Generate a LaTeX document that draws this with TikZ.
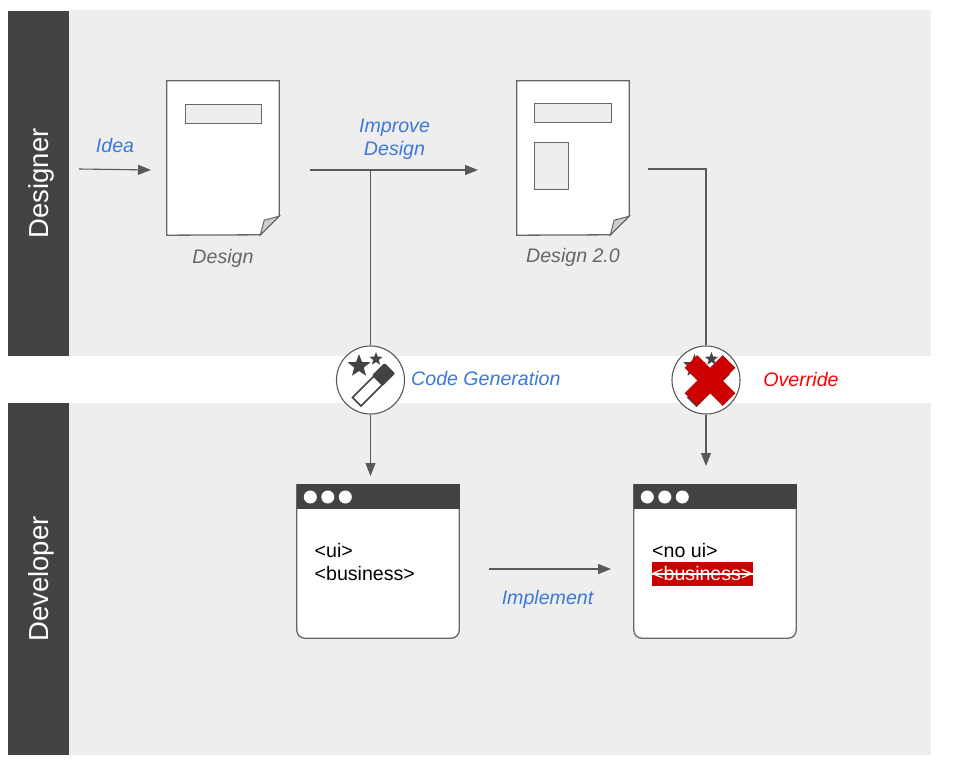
\documentclass[tikz,border=0pt]{standalone}
\usepackage{fontspec}
\setmainfont{Liberation Sans}
\usetikzlibrary{arrows.meta,shapes.geometric}

\definecolor{bandgray}{HTML}{EEEEEE}
\definecolor{bardark}{HTML}{434343}
\definecolor{linegray}{HTML}{595959}
\definecolor{edgegray}{HTML}{666666}
\definecolor{foldgray}{HTML}{CCCCCC}
\definecolor{noteblue}{HTML}{3C78D8}
\definecolor{crossred}{HTML}{CC0000}

\tikzstyle{band} = [rectangle, fill=bandgray, inner sep=0pt, anchor=north west]
\tikzstyle{lanebar} = [rectangle, fill=bardark, text=white, inner sep=0pt, rotate=90, minimum height=61pt, text height=25pt, text depth=5.7pt, font=\fontsize{27.5}{27.5}\selectfont]
\tikzstyle{flow} = [draw=linegray, line width=1.1pt, -{Triangle[length=13pt,width=10pt]}]
\tikzstyle{plainline} = [draw=linegray, line width=1.1pt]
\tikzstyle{note} = [inner sep=0pt, align=center, text=noteblue, font=\fontsize{19.6}{23}\selectfont\itshape]
\tikzstyle{caption} = [inner sep=0pt, text=edgegray, font=\fontsize{19.6}{23}\selectfont\itshape]
\tikzstyle{sheet} = [rectangle, inner sep=0pt, minimum width=112pt, minimum height=154pt]
\tikzstyle{slot} = [rectangle, draw=edgegray, line width=1pt, fill=bandgray, inner sep=0pt]
\tikzstyle{badge} = [circle, draw=linegray, line width=1.1pt, fill=white, inner sep=0pt, minimum size=68pt]
\tikzstyle{winbox} = [rectangle, inner sep=0pt, minimum width=162pt, minimum height=154pt]
\tikzstyle{winbar} = [rectangle, fill=bardark, inner sep=0pt, minimum width=163pt, minimum height=25pt, anchor=north west]
\tikzstyle{windot} = [circle, fill=white, inner sep=0pt, minimum size=13pt]
\tikzstyle{code} = [inner sep=0pt, anchor=base west, font=\fontsize{19.6}{23}\selectfont]
\tikzstyle{wandstick} = [rectangle, draw=bardark, line width=1.6pt, fill=white, inner sep=0pt, rotate=45, minimum width=46pt, minimum height=12pt]
\tikzstyle{wandhead} = [rectangle, rounded corners=1.5pt, fill=bardark, inner sep=0pt, rotate=45, minimum width=18pt, minimum height=15pt]
\tikzstyle{wandstar} = [star, star points=5, star point ratio=2.4, fill=bardark, inner sep=0pt]
\tikzstyle{crossarm} = [rectangle, fill=crossred, inner sep=0pt, minimum width=54pt, minimum height=18pt]

% page outline with the turned corner
\newcommand{\sheetoutline}[1]{
    \draw[draw=edgegray, line width=1.3pt, fill=white] (#1.north west) -- (#1.north east) -- ++(0,135) -- ++(-19,19) -- (#1.south west) -- cycle;
    \draw[draw=edgegray, line width=1pt, fill=foldgray] (#1.south east) ++(0,-19) -- ++(-15,4) -- ++(-4,15) -- cycle;
}
% window frame, title bar and its three dots
\newcommand{\windowframe}[1]{
    \draw[draw=edgegray, line width=1.3pt, fill=white, rounded corners=8pt] (#1.north west) -- (#1.south west) -- (#1.south east) -- (#1.north east);
    \node (#1bar) at (#1.north west) [winbar] {};
    \foreach \dotx in {0,1,2} {
        \node (#1dot\dotx) at ([xshift=13.5pt+17.5pt*\dotx,yshift=-0.5pt]#1bar.west) [windot] {};
    }
}
% wand and two stars, relative to a badge
\newcommand{\wandicon}[1]{
    \node (#1stick) at ([xshift=2.5pt,yshift=-5.5pt]#1.center) [wandstick] {};
    \node (#1head) at ([xshift=13pt,yshift=5.5pt]#1.center) [wandhead] {};
    \node (#1bigstar) at ([xshift=-11.5pt,yshift=14pt]#1.center) [wandstar, minimum size=24pt] {};
    \node (#1smallstar) at ([xshift=5.5pt,yshift=21pt]#1.center) [wandstar, minimum size=14pt] {};
}

\begin{document}
\begin{tikzpicture}[x=1pt,y=-1pt]
        \useasboundingbox (0,0) rectangle (953,765);
        % Lanes
        \node (topband) at (69,10) [band, minimum width=862pt, minimum height=346pt] {};
        \node (lowband) at (69,403) [band, minimum width=862pt, minimum height=352pt] {};
        \node (designer) at (38.5,183.5) [lanebar, minimum width=345pt] {Designer};
        \node (developer) at (38.5,579) [lanebar, minimum width=352pt] {Developer};

        % Pages
        \node (design) at (223,158) [sheet] {};
        \sheetoutline{design}
        \node (designslot) at (223,114) [slot, minimum width=76pt, minimum height=19pt] {};
        \node (designcap) at (223,258) [caption] {Design};

        \node (redesign) at (573,158) [sheet] {};
        \sheetoutline{redesign}
        \node (redesignslot) at (572.5,113.5) [slot, minimum width=77pt, minimum height=19pt] {};
        \node (redesignbox) at (551,166) [slot, minimum width=34pt, minimum height=46pt] {};
        \node (redesigncap) at (573,257) [caption] {Design 2.0};

        % Windows
        \node (uiwin) at (378,561) [winbox] {};
        \windowframe{uiwin}
        \node (uiline) at (314.5,557) [code] {<ui>};
        \node (bizline) at (314.5,580) [code] {<business>};

        \node (nouiwin) at (715,561) [winbox] {};
        \windowframe{nouiwin}
        \node (nouiline) at (652,557) [code] {<no ui>};
        \node (strikebox) at (702,574) [rectangle, fill=crossred, inner sep=0pt, minimum width=101pt, minimum height=24pt] {};
        \node (strikeline) at (652,580) [code, text=white] {<business>};
        \draw[white, line width=1.1pt] (strikebox.west) -- (strikebox.east);

        % Free ends of the connectors
        \coordinate (ideastart) at (79,169);
        \coordinate (ideaend) at (151,170);
        \coordinate (improvestart) at (310,170);
        \coordinate (improveend) at (478,170);
        \coordinate (branch) at (370.5,170);
        \coordinate (overstart) at (648,169);
        \coordinate (overturn) at (706,169);
        \coordinate (genend) at (370.5,476);
        \coordinate (overend) at (706,466);
        \coordinate (implstart) at (489,569);
        \coordinate (implend) at (611,569);

        % Badges
        \node (genbadge) at (370.5,380) [badge] {};
        \node (overbadge) at (706,380) [badge] {};
        \wandicon{genbadge}
        \wandicon{overbadge}
        \node (crossa) at (710,380.5) [crossarm, rotate=45] {};
        \node (crossb) at (710,380.5) [crossarm, rotate=-45] {};

        % Connectors
        \draw[flow] (ideastart) -- (ideaend);
        \draw[flow] (improvestart) -- (improveend);
        \draw[plainline] (branch) -- (genbadge);
        \draw[plainline] (overstart) -- (overturn) -- (overbadge);
        \draw[flow] (genbadge) -- (genend);
        \draw[flow] (overbadge) -- (overend);
        \draw[flow] (implstart) -- (implend);

        % Labels
        \node (idealabel) at (115,145) [note] {Idea};
        \node (improvelabel) at (394.5,139) [note] {Improve\\Design};
        \node (genlabel) at (411,378.5) [note, anchor=west] {Code Generation};
        \node (overlabel) at (801,379) [note, text=red] {Override};
        \node (impllabel) at (547.5,599) [note] {Implement};
    \end{tikzpicture}
\end{document}
